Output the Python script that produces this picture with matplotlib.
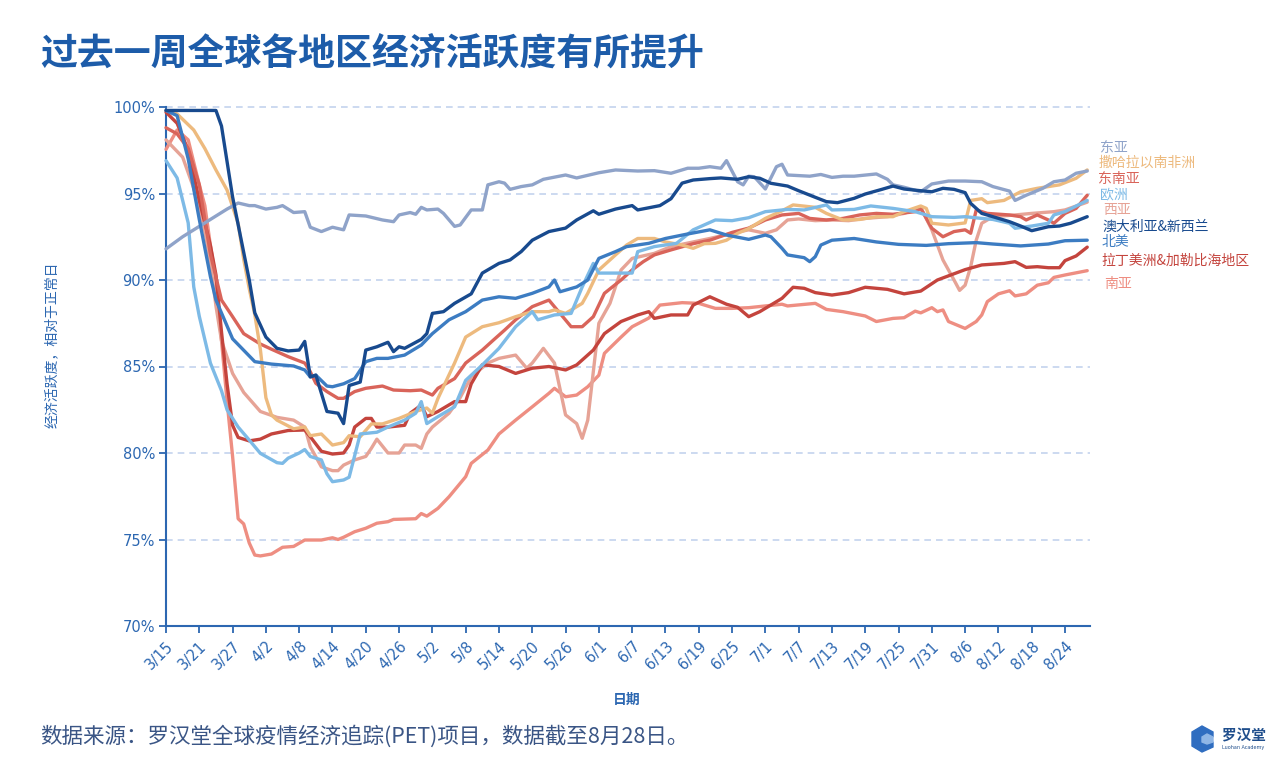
import matplotlib
matplotlib.use("Agg")
import matplotlib.pyplot as plt
from matplotlib.patches import Polygon

plt.rcParams['font.family'] = ['Noto Sans CJK SC', 'DejaVu Sans']

# ---------------- data (day index from 3/15, activity %) ----------------
xtick_labels = ["3/15", "3/21", "3/27", "4/2", "4/8", "4/14", "4/20", "4/26", "5/2", "5/8",
                "5/14", "5/20", "5/26", "6/1", "6/7", "6/13", "6/19", "6/25", "7/1", "7/7",
                "7/13", "7/19", "7/25", "7/31", "8/6", "8/12", "8/18", "8/24"]
ytick_values = [70, 75, 80, 85, 90, 95, 100]

east_asia_days = [0, 3, 6, 9, 11, 13, 15, 16, 18, 20, 21, 23, 25, 26, 28, 30, 32, 33, 36, 39, 41, 42, 44, 45, 46, 47, 49, 50, 52, 53, 55, 57, 58, 60, 61, 62, 64, 66, 68, 72, 74, 78, 81, 85, 88, 91, 94, 96, 98, 100, 101, 103, 104, 105, 106, 108, 110, 111, 112, 116, 118, 120, 122, 124, 128, 130, 131, 133, 136, 138, 141, 144, 147, 149, 152, 153, 155, 158, 160, 162, 164, 166]
east_asia_vals = [91.8, 92.5, 93.1, 93.7, 94.1, 94.45, 94.3, 94.3, 94.1, 94.2, 94.3, 93.9, 93.95, 93.05, 92.8, 93.05, 92.9, 93.76, 93.7, 93.47, 93.37, 93.76, 93.9, 93.8, 94.2, 94.05, 94.1, 93.85, 93.1, 93.18, 94.05, 94.05, 95.5, 95.68, 95.6, 95.24, 95.4, 95.5, 95.82, 96.07, 95.9, 96.2, 96.36, 96.3, 96.32, 96.17, 96.46, 96.46, 96.55, 96.46, 96.9, 95.68, 95.5, 96.0, 95.97, 95.26, 96.55, 96.69, 96.07, 96.0, 96.1, 95.93, 96.0, 96.0, 96.13, 95.82, 95.5, 95.36, 95.1, 95.55, 95.72, 95.72, 95.68, 95.4, 95.14, 94.6, 94.9, 95.3, 95.68, 95.78, 96.17, 96.3]

ssa_days = [0, 2, 5, 7, 9, 11, 13, 14, 15, 16, 17, 18, 19, 20, 23, 25, 26, 28, 30, 32, 33, 35, 37, 39, 42, 45, 47, 48, 49, 52, 54, 57, 60, 63, 66, 69, 70, 72, 75, 76, 78, 81, 83, 85, 88, 90, 93, 95, 97, 99, 101, 103, 105, 108, 111, 113, 117, 119, 122, 125, 128, 131, 133, 136, 137, 138, 141, 144, 145, 147, 148, 151, 154, 157, 161, 164, 166]
ssa_vals = [99.8, 99.6, 98.67, 97.6, 96.36, 95.2, 93.28, 91.2, 89.5, 88.0, 86.0, 83.2, 82.2, 81.9, 81.4, 81.5, 81.0, 81.1, 80.46, 80.6, 81.0, 80.94, 81.68, 81.68, 82.0, 82.4, 82.6, 82.3, 83.15, 85.2, 86.7, 87.3, 87.53, 87.88, 88.17, 88.17, 88.27, 88.07, 88.65, 89.23, 90.58, 91.45, 92.02, 92.4, 92.4, 92.2, 92.02, 91.83, 92.1, 92.12, 92.3, 92.7, 92.97, 93.56, 94.0, 94.34, 94.2, 93.85, 93.47, 93.5, 93.66, 93.66, 93.95, 94.28, 94.14, 93.28, 93.18, 93.3, 94.6, 94.7, 94.47, 94.6, 95.1, 95.3, 95.5, 95.88, 96.36]

sea_days = [0, 2, 4, 6, 8, 10, 12, 14, 17, 19, 22, 25, 26, 27, 29, 31, 32, 34, 36, 39, 41, 44, 46, 48, 49, 52, 54, 57, 59, 61, 63, 66, 69, 71, 73, 75, 77, 79, 82, 84, 86, 88, 91, 95, 98, 102, 105, 108, 111, 114, 116, 119, 122, 125, 128, 131, 135, 136, 138, 140, 142, 144, 145, 146, 148, 152, 154, 155, 157, 159, 160, 162, 164, 166]
sea_vals = [98.8, 98.45, 97.6, 95.5, 91.5, 88.84, 87.88, 86.9, 86.3, 86.0, 85.57, 85.2, 84.7, 84.03, 83.55, 83.16, 83.16, 83.55, 83.74, 83.87, 83.64, 83.6, 83.64, 83.35, 83.74, 84.3, 85.2, 85.95, 86.53, 87.1, 87.7, 88.46, 88.84, 88.07, 87.3, 87.3, 87.88, 89.23, 90.0, 90.58, 91.06, 91.45, 91.74, 92.1, 92.3, 92.75, 93.0, 93.47, 93.76, 93.85, 93.56, 93.47, 93.56, 93.76, 93.85, 93.8, 93.95, 94.14, 92.99, 92.5, 92.8, 92.9, 92.7, 94.05, 93.85, 93.76, 93.66, 93.47, 93.76, 93.47, 93.28, 93.85, 94.14, 94.9]

europe_days = [0, 2, 4, 5, 6, 8, 10, 11, 13, 15, 17, 20, 21, 22, 24, 25, 26, 28, 29, 30, 32, 33, 35, 38, 40, 43, 45, 46, 47, 49, 52, 54, 57, 60, 63, 66, 67, 70, 73, 75, 77, 78, 81, 84, 85, 88, 92, 95, 99, 102, 105, 108, 112, 115, 119, 120, 124, 127, 131, 135, 138, 142, 144, 147, 149, 152, 153, 156, 159, 160, 162, 166]
europe_vals = [96.9, 95.9, 93.3, 89.6, 87.9, 85.2, 83.6, 82.5, 81.5, 80.75, 79.98, 79.44, 79.4, 79.7, 80.0, 80.2, 79.8, 79.6, 78.8, 78.34, 78.44, 78.6, 81.1, 81.2, 81.5, 81.9, 82.3, 82.97, 81.7, 82.1, 82.67, 84.2, 85.09, 86.05, 87.3, 88.17, 87.7, 87.98, 88.07, 89.6, 90.96, 90.4, 90.4, 90.4, 91.64, 91.93, 92.12, 92.9, 93.47, 93.43, 93.6, 93.95, 94.08, 94.05, 94.34, 94.05, 94.08, 94.28, 94.14, 93.95, 93.66, 93.62, 93.66, 93.56, 93.5, 93.28, 92.99, 93.12, 93.28, 93.76, 93.95, 94.6]

west_asia_days = [0, 3, 5, 7, 8, 9, 10, 12, 14, 17, 20, 23, 25, 26, 28, 30, 31, 32, 34, 36, 37, 38, 40, 42, 43, 45, 46, 47, 48, 51, 53, 55, 58, 60, 63, 65, 66, 68, 70, 72, 74, 75, 76, 78, 80, 82, 84, 88, 91, 95, 98, 102, 105, 108, 110, 112, 114, 117, 120, 123, 126, 130, 133, 136, 138, 140, 142, 143, 144, 145, 146, 147, 149, 153, 156, 160, 162, 166]
west_asia_vals = [98.1, 97.1, 95.3, 92.8, 91.0, 88.5, 86.5, 84.6, 83.5, 82.4, 82.06, 81.9, 81.5, 80.36, 79.2, 78.98, 78.98, 79.3, 79.6, 79.8, 80.27, 80.8, 80.0, 80.0, 80.46, 80.46, 80.27, 81.1, 81.5, 82.3, 83.2, 84.4, 85.2, 85.47, 85.66, 84.9, 85.2, 86.05, 85.2, 82.2, 81.7, 80.85, 81.9, 87.5, 88.65, 90.58, 91.25, 91.54, 91.93, 92.2, 92.4, 92.7, 92.9, 92.7, 92.9, 93.47, 93.53, 93.43, 93.47, 93.43, 93.56, 93.66, 93.85, 94.2, 92.9, 91.16, 90.0, 89.4, 89.7, 90.77, 92.3, 93.28, 93.66, 93.76, 93.85, 93.95, 94.05, 94.5]

anz_days = [0, 9, 10, 12, 15, 16, 18, 20, 22, 24, 25, 26, 27, 29, 31, 32, 33, 35, 36, 38, 40, 41, 42, 43, 46, 47, 48, 50, 52, 55, 57, 60, 62, 64, 66, 69, 72, 74, 77, 78, 81, 84, 85, 89, 91, 93, 95, 98, 100, 103, 105, 107, 109, 112, 114, 117, 119, 121, 124, 126, 129, 131, 133, 136, 138, 140, 142, 144, 145, 147, 149, 152, 154, 156, 159, 161, 163, 166]
anz_vals = [99.8, 99.8, 98.9, 94.8, 90.0, 88.1, 86.7, 86.05, 85.9, 85.95, 86.45, 84.4, 84.5, 82.4, 82.3, 81.7, 83.9, 84.1, 85.95, 86.14, 86.4, 85.86, 86.14, 86.05, 86.57, 86.9, 88.07, 88.17, 88.65, 89.2, 90.4, 90.96, 91.16, 91.64, 92.3, 92.8, 93.0, 93.47, 94.0, 93.8, 94.1, 94.3, 94.05, 94.3, 94.7, 95.6, 95.78, 95.86, 95.9, 95.82, 95.97, 95.88, 95.59, 95.43, 95.16, 94.78, 94.53, 94.47, 94.72, 94.97, 95.24, 95.43, 95.26, 95.16, 95.1, 95.3, 95.24, 95.05, 94.43, 93.85, 93.66, 93.37, 93.12, 92.85, 93.08, 93.12, 93.28, 93.66]

na_days = [0, 2, 4, 6, 8, 9, 12, 16, 19, 23, 25, 26, 27, 29, 30, 32, 34, 36, 38, 40, 43, 46, 48, 51, 54, 57, 60, 63, 66, 69, 70, 71, 74, 76, 78, 81, 83, 87, 90, 94, 98, 101, 105, 108, 109, 111, 112, 115, 116, 117, 118, 120, 124, 128, 132, 137, 141, 146, 149, 154, 159, 162, 166]
na_vals = [99.8, 99.5, 97.0, 93.5, 90.2, 88.84, 86.6, 85.28, 85.14, 85.03, 84.8, 84.4, 84.5, 83.87, 83.83, 84.0, 84.3, 85.28, 85.47, 85.47, 85.66, 86.24, 86.9, 87.7, 88.17, 88.84, 89.03, 88.94, 89.23, 89.6, 90.0, 89.32, 89.6, 90.0, 91.25, 91.64, 91.93, 92.12, 92.4, 92.66, 92.9, 92.6, 92.35, 92.6, 92.5, 91.83, 91.45, 91.29, 91.06, 91.35, 92.02, 92.3, 92.4, 92.2, 92.06, 92.0, 92.1, 92.16, 92.08, 91.97, 92.08, 92.27, 92.3]

lac_days = [0, 2, 4, 6, 8, 9, 10, 11, 12, 13, 15, 17, 19, 22, 25, 26, 28, 30, 32, 33, 34, 36, 37, 38, 40, 43, 44, 46, 47, 49, 52, 54, 55, 57, 60, 63, 66, 69, 72, 74, 77, 79, 82, 85, 87, 88, 91, 94, 95, 98, 101, 103, 105, 107, 111, 113, 115, 117, 120, 123, 126, 130, 133, 136, 139, 144, 147, 151, 153, 155, 157, 159, 161, 162, 164, 166]
lac_vals = [99.7, 99.06, 97.5, 94.6, 92.0, 90.3, 87.0, 84.0, 81.6, 80.9, 80.7, 80.8, 81.1, 81.3, 81.33, 80.94, 80.1, 79.94, 80.0, 80.46, 81.5, 82.0, 82.0, 81.5, 81.5, 81.6, 82.3, 82.77, 82.1, 82.4, 82.97, 82.97, 84.0, 85.1, 85.0, 84.6, 84.9, 85.0, 84.8, 85.09, 85.95, 86.9, 87.6, 87.98, 88.17, 87.78, 87.98, 87.98, 88.55, 89.03, 88.6, 88.42, 87.88, 88.17, 88.94, 89.58, 89.52, 89.27, 89.13, 89.27, 89.58, 89.46, 89.2, 89.36, 90.0, 90.6, 90.87, 90.96, 91.06, 90.73, 90.77, 90.71, 90.71, 91.12, 91.39, 91.9]

south_asia_days = [0, 2, 4, 6, 7, 8, 9, 10, 11, 12, 13, 14, 15, 16, 17, 19, 21, 23, 25, 28, 30, 31, 32, 34, 36, 38, 40, 41, 45, 46, 47, 49, 51, 54, 55, 58, 60, 63, 66, 69, 70, 72, 74, 76, 78, 79, 82, 84, 87, 89, 93, 96, 99, 102, 105, 108, 111, 112, 117, 119, 122, 126, 128, 131, 133, 135, 136, 138, 139, 140, 141, 144, 146, 147, 148, 150, 152, 153, 155, 157, 159, 160, 162, 166]
south_asia_vals = [97.55, 98.67, 98.1, 95.5, 94.3, 92.0, 90.0, 86.5, 83.0, 79.8, 76.2, 75.9, 74.8, 74.1, 74.05, 74.16, 74.55, 74.6, 74.97, 74.97, 75.1, 75.0, 75.13, 75.45, 75.65, 75.94, 76.03, 76.16, 76.2, 76.5, 76.35, 76.8, 77.47, 78.63, 79.4, 80.17, 81.1, 81.9, 82.67, 83.45, 83.74, 83.25, 83.35, 83.83, 84.5, 85.76, 86.7, 87.3, 87.8, 88.55, 88.69, 88.65, 88.36, 88.36, 88.4, 88.5, 88.6, 88.5, 88.65, 88.3, 88.17, 87.92, 87.6, 87.78, 87.82, 88.2, 88.1, 88.4, 88.17, 88.27, 87.6, 87.2, 87.6, 87.98, 88.75, 89.2, 89.38, 89.08, 89.2, 89.7, 89.84, 90.15, 90.29, 90.54]

series_names = ["东亚", "撒哈拉以南非洲", "东南亚", "欧洲", "西亚",
                "澳大利亚&新西兰", "北美", "拉丁美洲&加勒比海地区", "南亚"]

# ---------------- styling ----------------
W, H = 1269, 761
colors = {
    "东亚": "#8FA3C9",
    "撒哈拉以南非洲": "#EDBA7E",
    "东南亚": "#D9645A",
    "欧洲": "#7DBAE6",
    "西亚": "#E6A396",
    "澳大利亚&新西兰": "#184A8E",
    "北美": "#3C7CC2",
    "拉丁美洲&加勒比海地区": "#C4443D",
    "南亚": "#EE8E82",
}
data = {
    "东亚": (east_asia_days, east_asia_vals),
    "撒哈拉以南非洲": (ssa_days, ssa_vals),
    "东南亚": (sea_days, sea_vals),
    "欧洲": (europe_days, europe_vals),
    "西亚": (west_asia_days, west_asia_vals),
    "澳大利亚&新西兰": (anz_days, anz_vals),
    "北美": (na_days, na_vals),
    "拉丁美洲&加勒比海地区": (lac_days, lac_vals),
    "南亚": (south_asia_days, south_asia_vals),
}
draw_order = ["南亚", "西亚", "拉丁美洲&加勒比海地区", "东南亚", "撒哈拉以南非洲",
              "欧洲", "东亚", "北美", "澳大利亚&新西兰"]
label_pos = {  # (x px, y px) of right-side labels
    "东亚": (1100, 148), "撒哈拉以南非洲": (1099, 163), "东南亚": (1098, 179),
    "欧洲": (1100, 194), "西亚": (1103, 210), "澳大利亚&新西兰": (1102, 227),
    "北美": (1102, 242), "拉丁美洲&加勒比海地区": (1101, 261), "南亚": (1104, 284),
}

BLUE = "#2C67B1"
fig = plt.figure(figsize=(W / 100, H / 100), dpi=100)
ax = fig.add_axes([166 / W, 1 - 626 / H, (1090 - 166) / W, (626 - 107) / H])

for name in draw_order:
    d, v = data[name]
    ax.plot(d, v, color=colors[name], lw=2.4, solid_joinstyle='round',
            solid_capstyle='round', clip_on=False, zorder=3)

ax.set_xlim(0, 166.5)
ax.set_ylim(70, 100)
ax.set_xticks([6 * i for i in range(len(xtick_labels))])
ax.set_xticklabels(xtick_labels, rotation=45, ha='right', va='top',
                   rotation_mode='anchor', fontsize=10.5, color=BLUE,
                   family='DejaVu Sans')
ax.set_yticks(ytick_values)
ax.set_yticklabels([f"{y}%" for y in ytick_values], fontsize=10.5, color=BLUE,
                   family='DejaVu Sans')
ax.tick_params(axis='both', direction='out', length=5, width=1.3, color=BLUE, pad=3)
ax.tick_params(axis='x', pad=4)
for y in ytick_values[1:]:
    ax.axhline(y, color="#C3D3EE", lw=1.2, ls=(0, (4, 3)), zorder=1, clip_on=False)
for s in ["top", "right"]:
    ax.spines[s].set_visible(False)
for s in ["left", "bottom"]:
    ax.spines[s].set_color(BLUE)
    ax.spines[s].set_linewidth(1.5)
ax.set_facecolor("none")

# right-side labels
for name in series_names:
    x, y = label_pos[name]
    fig.text(x / W, 1 - y / H, name, color=colors[name], fontsize=10,
             ha='left', va='center')

# title, axis labels, source
fig.text(40 / W, 1 - 55 / H, "过去一周全球各地区经济活跃度有所提升", fontsize=26.6,
         fontweight='black', color="#1D5CA9", ha='left', va='center')
fig.text(52 / W, 1 - 345 / H, "经济活跃度，相对于正常日", rotation=90, fontsize=10,
         color=BLUE, ha='center', va='center')
fig.text(627 / W, 1 - 700 / H, "日期", fontsize=10, color=BLUE, ha='center',
         va='center', fontweight='bold')
fig.text(40 / W, 1 - 736 / H, "数据来源：罗汉堂全球疫情经济追踪(PET)项目，数据截至8月28日。",
         fontsize=15.5, fontweight='light', color="#3A5585", ha='left', va='center')

# logo
lax = fig.add_axes([1188 / W, 1 - 754 / H, 80 / W, 32 / H])
lax.set_xlim(0, 80)
lax.set_ylim(0, 32)
lax.axis('off')
lax.add_patch(Polygon([[4, 22], [14, 28], [25, 22], [25, 17], [19, 20], [14, 17],
                       [14, 12], [19, 10], [25, 12], [25, 7], [14, 2], [4, 8]],
                      closed=True, color="#2F6DC0"))
lax.add_patch(Polygon([[14, 17], [19, 20], [25, 17], [25, 12], [19, 10], [14, 12]],
                      closed=True, color="#8FB6E6"))
lax.text(34, 19, "罗汉堂", fontsize=10.5, fontweight='bold', color="#1F4E8C",
         ha='left', va='center')
lax.text(34, 7, "Luohan Academy", fontsize=3.5, color="#1F4E8C", ha='left',
         va='center', family='DejaVu Sans')

fig.savefig("out.png", dpi=100, facecolor="white")
